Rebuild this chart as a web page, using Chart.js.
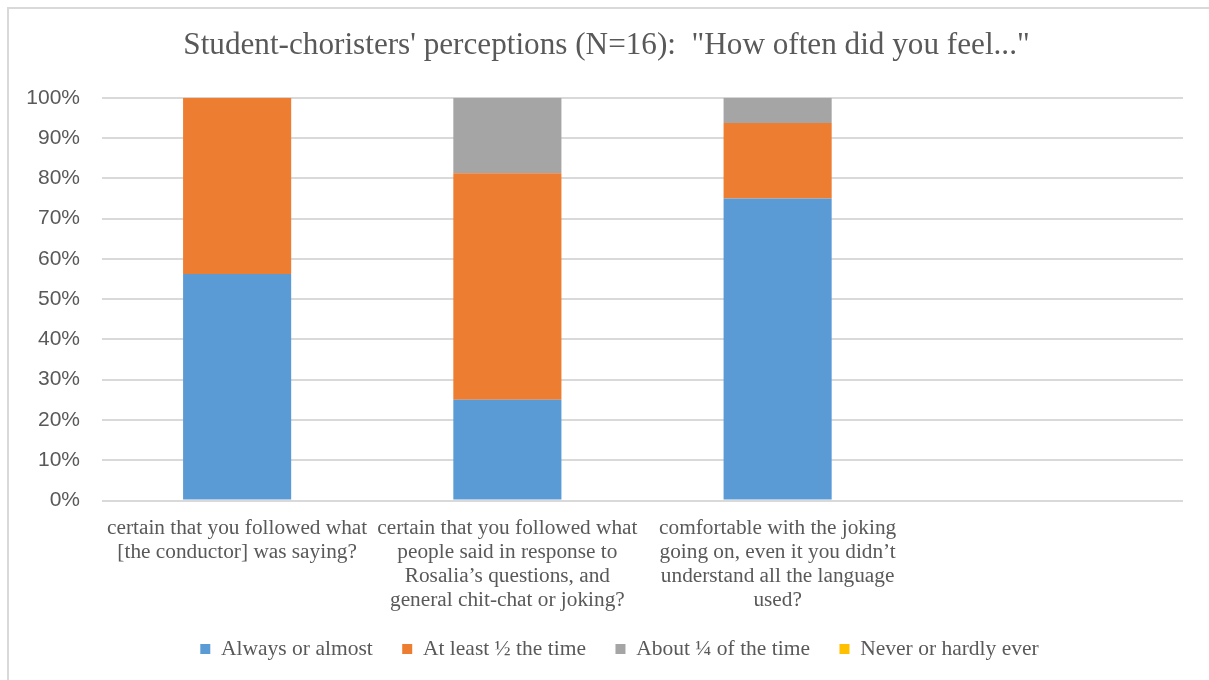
<!DOCTYPE html>
<html>
<head>
<meta charset="utf-8">
<script src="https://cdn.jsdelivr.net/npm/chart.js@4.4.0/dist/chart.umd.min.js"></script>
<style>
  html, body { margin: 0; padding: 0; background: #ffffff; }
  #wrap { position: relative; width: 1209px; height: 680px; }
</style>
</head>
<body>
<div id="wrap"><canvas id="c" width="1209" height="680"></canvas></div>
<script>
const titleText = 'Student-choristers\' perceptions (N=16):  "How often did you feel..."';
const categories = [
  ['certain that you followed what', '[the conductor] was saying?'],
  ['certain that you followed what', 'people said in response to', 'Rosalia\u2019s questions, and', 'general chit-chat or joking?'],
  ['comfortable with the joking', 'going on, even it you didn\u2019t', 'understand all the language', 'used?'],
  ''
];
const seriesNames = ['Always or almost', 'At least \u00bd the time', 'About \u00bc of the time', 'Never or hardly ever'];
const alwaysVals  = [56.25, 25, 75, 0];
const halfVals    = [43.75, 56.25, 18.75, 0];
const quarterVals = [0, 18.75, 6.25, 0];
const neverVals   = [0, 0, 0, 0];
const yTicks = [0, 10, 20, 30, 40, 50, 60, 70, 80, 90, 100];

const colors = ['#5B9BD5', '#ED7D31', '#A5A5A5', '#FFC000'];
const textColor = '#595959';

const bgPlugin = {
  id: 'bg',
  afterLayout(chart) {
    if (chart.titleBlock) { chart.titleBlock.left += 15; chart.titleBlock.right += 15; }
    if (chart.legend) {
      chart.legend.left += 28; chart.legend.right += 28;
      chart.legend.top -= 3.75; chart.legend.bottom -= 3.75;
    }
  },
  beforeDraw(chart) {
    const ctx = chart.ctx;
    ctx.save();
    ctx.fillStyle = '#ffffff';
    ctx.fillRect(0, 0, chart.width, chart.height);
    ctx.strokeStyle = '#d9d9d9';
    ctx.lineWidth = 2;
    ctx.beginPath();
    ctx.moveTo(8, 680);
    ctx.lineTo(8, 8);
    ctx.lineTo(1209, 8);
    ctx.stroke();
    ctx.restore();
  }
};

new Chart(document.getElementById('c'), {
  type: 'bar',
  data: {
    labels: categories,
    datasets: [
      { label: seriesNames[0], data: alwaysVals, backgroundColor: colors[0] },
      { label: seriesNames[1], data: halfVals, backgroundColor: colors[1] },
      { label: seriesNames[2], data: quarterVals, backgroundColor: colors[2] },
      { label: seriesNames[3], data: neverVals, backgroundColor: colors[3] }
    ]
  },
  options: {
    responsive: false,
    animation: false,
    devicePixelRatio: 1,
    layout: { padding: { left: 0, right: 26, top: 0, bottom: 6.5 } },
    datasets: { bar: { categoryPercentage: 1, barPercentage: 0.4, borderWidth: 0 } },
    scales: {
      x: {
        stacked: true,
        afterFit(scale) { scale.height = 112; },
        grid: { display: false, drawTicks: false },
        border: { display: false },
        ticks: {
          autoSkip: false, maxRotation: 0, minRotation: 0, padding: 16,
          color: textColor,
          font: { family: '"Liberation Serif", "Times New Roman", serif', size: 21.3, lineHeight: 24 / 21.3 }
        }
      },
      y: {
        stacked: true,
        min: 0, max: 100,
        afterFit(scale) { scale.width = 102; },
        afterBuildTicks(scale) { scale.ticks = yTicks.map(v => ({ value: v })); },
        grid: { color: '#d9d9d9', lineWidth: 2, drawTicks: false },
        border: { display: false },
        ticks: {
          padding: 22,
          color: textColor,
          font: { family: '"Liberation Sans", Arial, sans-serif', size: 21 },
          callback: v => v + '%'
        }
      }
    },
    plugins: {
      title: {
        display: true,
        text: titleText,
        color: textColor,
        font: { family: '"Liberation Serif", "Times New Roman", serif', size: 31.2, weight: 'normal', lineHeight: 1.2 },
        padding: { top: 27, bottom: 33.3 }
      },
      legend: {
        position: 'bottom',
        labels: {
          boxWidth: 10, boxHeight: 10, padding: 29.5,
          color: textColor,
          font: { family: '"Liberation Serif", "Times New Roman", serif', size: 21.5 }
        }
      },
      tooltip: { enabled: false }
    }
  },
  plugins: [bgPlugin]
});
</script>
</body>
</html>
